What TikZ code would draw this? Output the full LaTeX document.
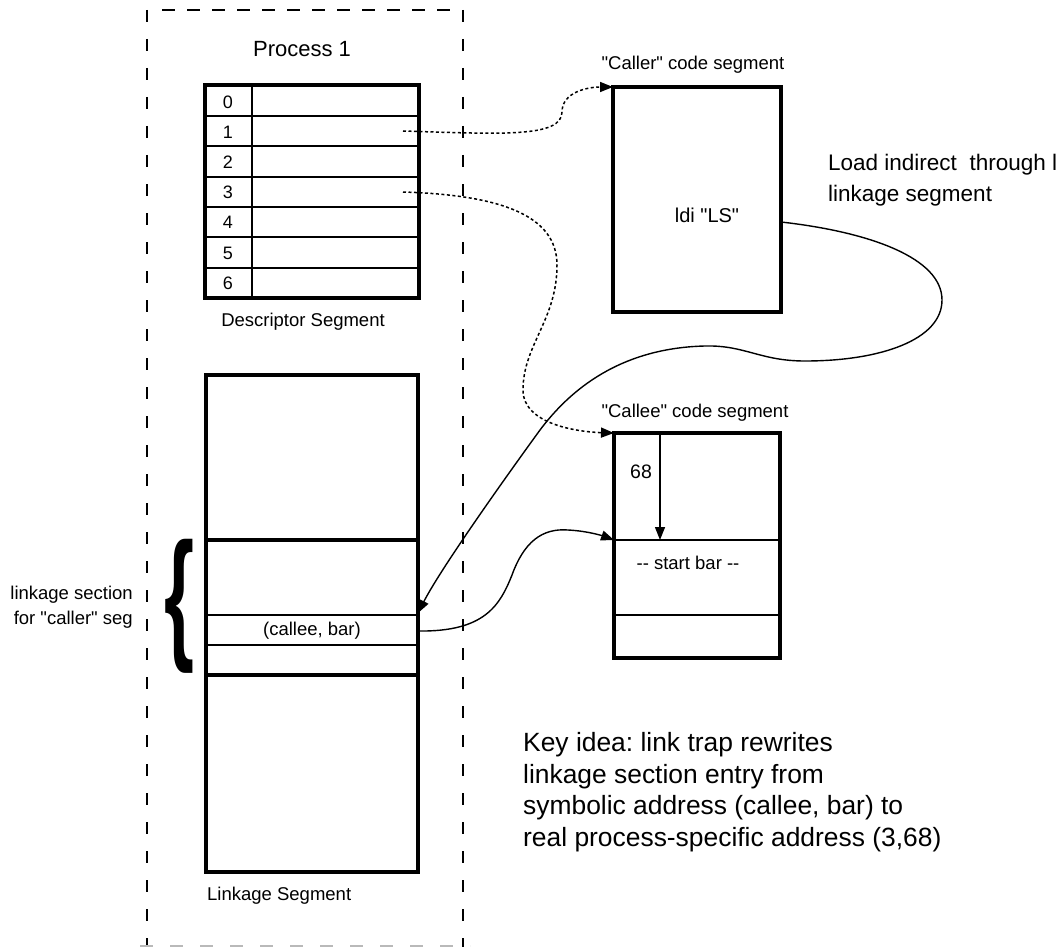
\documentclass[tikz,border=0pt]{standalone}
\usepackage{fontspec}
\usepackage{graphicx}
\setmainfont{Liberation Sans}[Ligatures=TeXOff]
\usetikzlibrary{arrows.meta}
\frenchspacing
\begin{document}
\begin{tikzpicture}[x=1pt,y=-1pt,
  heavy/.style={line width=3.2pt},
  light/.style={line width=1.6pt},
  seg/.style={draw,heavy,inner sep=0pt,outer sep=0pt,anchor=north west},
  txt/.style={inner sep=0pt,font=\fontsize{18.5}{22}\selectfont},
  link/.style={line width=1.4pt,-{Triangle[length=13pt,width=10pt]}},
  dotlink/.style={link,line width=1.5pt,dash pattern=on 3pt off 2.5pt},
  border/.style={line width=1.5pt}
]
\useasboundingbox (0,0) rectangle (1063,947);

% process boundary
\draw[border,dash pattern=on 12pt off 17pt] (147,10) -- (147,947);
\draw[border,dash pattern=on 12pt off 17pt] (463,10) -- (463,947);
\draw[border,dash pattern=on 13pt off 12pt] (162,10) -- (455,10);
\draw[border,gray!55,dash pattern=on 13pt off 17pt] (140,946) -- (470,946);
\node[txt,font=\fontsize{22}{26}\selectfont] (proc) at (302,49) {Process 1};

% descriptor segment
\node[seg,minimum width=214pt,minimum height=213pt] (desc) at (205,85) {};
\foreach \y in {116,146,177,207,237,268}
  \draw[light] (205,\y) -- (419,\y);
\draw[light] (252,85) -- (252,298);
\foreach \n/\y in {0/102,1/132,2/162,3/192.5,4/222.5,5/253,6/283.5}
  \node[txt,font=\fontsize{18}{21}\selectfont] (d\n) at (228,\y) {\n};
\node[txt] (desclbl) at (303,322) {Descriptor Segment};
\coordinate (row1) at (403,131);
\coordinate (row3) at (403,192);

% linkage segment
\node[seg,minimum width=212pt,minimum height=497pt] (ls) at (206,375) {};
\draw[heavy] (206,540) -- (418,540);
\draw[heavy] (206,675) -- (418,675);
\draw[light] (206,615) -- (418,615);
\draw[light] (206,645) -- (418,645);
\node[txt] (entry) at (312,631) {(callee, bar)};
\node[txt,anchor=west] (lslbl) at (207,896) {Linkage Segment};
\coordinate (lsin) at (418,613);
\coordinate (lsout) at (418,631);

% linkage section brace and label
\node[inner sep=0pt] (brace) at (180,606) {\resizebox*{30pt}{134pt}{\bfseries\{}};
\node[txt,anchor=east,align=right,font=\fontsize{18.5}{25}\selectfont] (sect) at (133,607)
  {linkage section\\for "caller" seg};

% caller code segment
\node[seg,minimum width=168pt,minimum height=225pt] (caller) at (613,87) {};
\node[txt] (callerlbl) at (693,65) {"Caller" code segment};
\node[txt,font=\fontsize{20}{24}\selectfont] (ldi) at (707,215) {ldi "LS"};
\coordinate (ldiout) at (781,222);
\node[txt,anchor=west,align=left,font=\fontsize{22.5}{31.5}\selectfont] (note) at (828,180)
  {Load indirect\ \ through l\\linkage segment};

% callee code segment
\node[seg,minimum width=166pt,minimum height=225pt] (callee) at (614,433) {};
\draw[light] (614,540) -- (780,540);
\draw[light] (614,615) -- (780,615);
\node[txt] (calleelbl) at (695,413) {"Callee" code segment};
\node[txt,font=\fontsize{19.5}{23}\selectfont] (off) at (641,472) {68};
\node[txt] (start) at (688,563) {-- start bar --};
\coordinate (top0) at (660,433);
\coordinate (barstart) at (614,540);

% key idea
\node[txt,anchor=north west,align=left,font=\fontsize{26.4}{31.7}\selectfont] (key) at (523,732)
  {Key idea: link trap rewrites\\linkage section entry from\\symbolic address (callee, bar) to\\real process-specific address (3,68)};

% connectors
\draw[dotlink] (row1) .. controls (500,134) and (562,138) .. (562,112)
  .. controls (562,92) and (588,87) .. (caller.north west);
\draw[dotlink] (row3) .. controls (500,195) and (557,215) .. (557,265)
  .. controls (557,320) and (523,345) .. (523,390)
  .. controls (523,425) and (580,432) .. (callee.north west);
\draw[link] (ldiout) .. controls (870,232) and (942,258) .. (942,300)
  .. controls (942,340) and (880,361) .. (805,361)
  .. controls (760,361) and (745,345) .. (705,346)
  .. controls (620,348) and (570,390) .. (540,430)
  .. controls (500,485) and (440,570) .. (lsin);
\draw[link] (lsout) .. controls (485,632) and (500,605) .. (512,575)
  .. controls (524,542) and (542,528) .. (568,530)
  .. controls (588,531) and (603,536) .. (barstart);
\draw[link] (top0) -- (top0 |- barstart);
\end{tikzpicture}
\end{document}
